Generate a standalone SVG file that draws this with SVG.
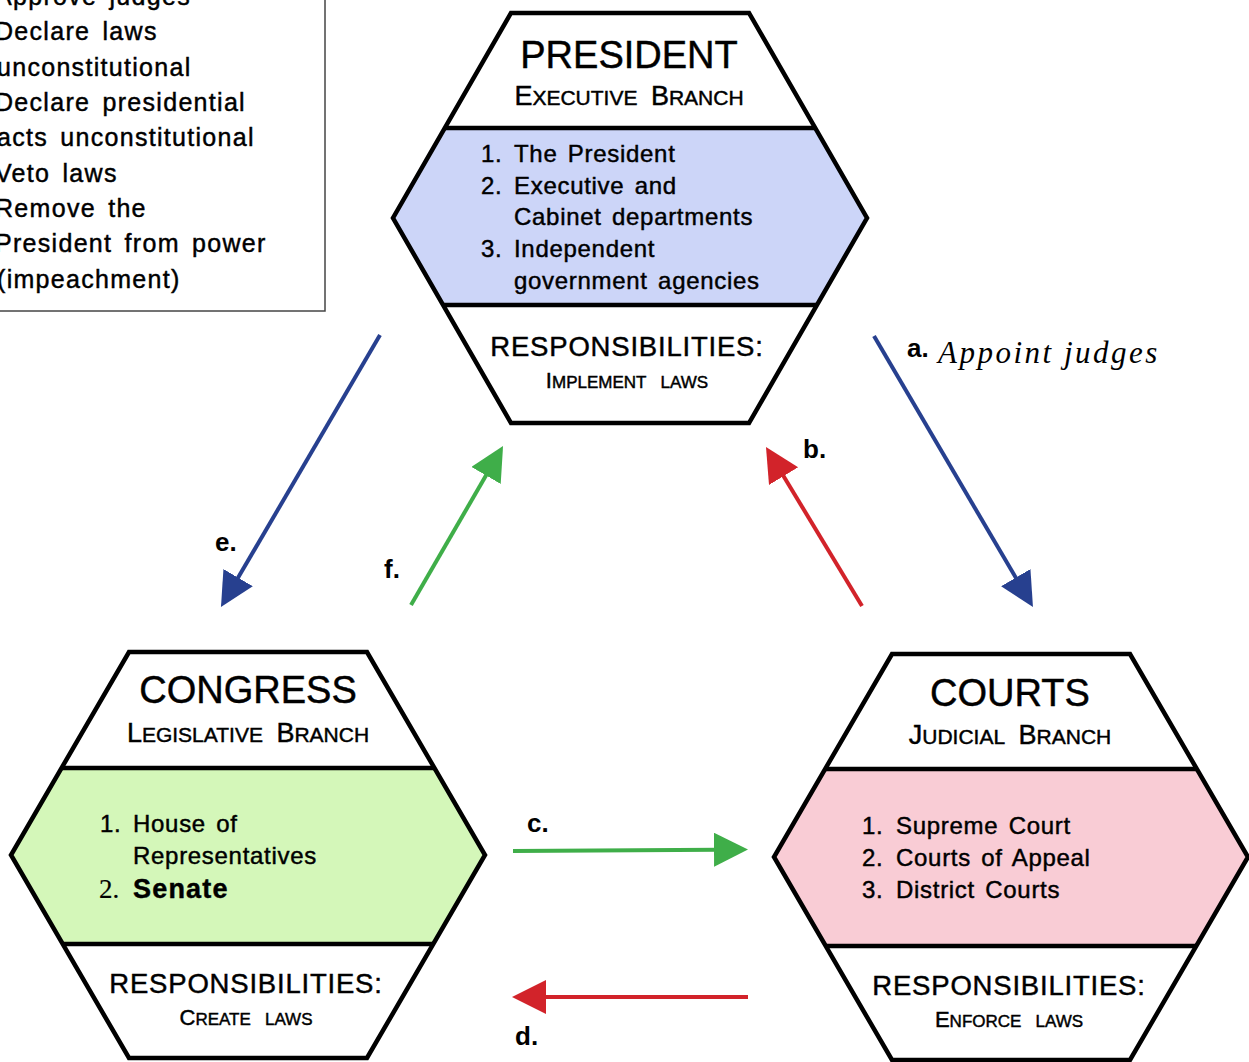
<svg xmlns="http://www.w3.org/2000/svg" width="1249" height="1062" viewBox="0 0 1249 1062">
  <style>
    text { font-family: "Liberation Sans", Arial, sans-serif; fill: #000; stroke: #000; stroke-width: 0.45px; }
    .hexfill { fill: #fff; stroke: none; }
    .hexline { fill: none; stroke: #000; stroke-width: 4.5; stroke-linejoin: miter; }
    .divider { stroke: #000; stroke-width: 4.5; }
    .blue-band { fill: #ccd5f8; }
    .green-band { fill: #d4f7b9; }
    .pink-band { fill: #f9ccd5; }
    .title { font-size: 38px; text-anchor: middle; }
    .branch { font-size: 27px; text-anchor: middle; word-spacing: 6px; }
    .branch .sm { font-size: 21px; }
    .item { font-size: 24px; letter-spacing: 0.7px; word-spacing: 3px; }
    .resp { font-size: 27.5px; letter-spacing: 0.8px; text-anchor: middle; }
    .duty { font-size: 22px; text-anchor: middle; word-spacing: 8px; }
    .duty .sm { font-size: 17px; }
    .box { fill: #fff; stroke: #444; stroke-width: 1.5; }
    .boxtext { font-size: 25px; letter-spacing: 1.3px; word-spacing: 4px; }
    .lbl { font-size: 26px; font-weight: bold; stroke-width: 0; }
    .script { font-family: "Liberation Serif", serif; font-style: italic; font-size: 31px; letter-spacing: 2.5px; stroke-width: 0; }
    .c-blue { stroke: #27408f; stroke-width: 4; fill: none; }
    .c-red { stroke: #d2232a; stroke-width: 4; fill: none; }
    .c-green { stroke: #3fae49; stroke-width: 4; fill: none; }
  </style>
  <defs>
    <marker id="head-blue" markerUnits="userSpaceOnUse" markerWidth="36" markerHeight="36" refX="4" refY="17" orient="auto">
      <path d="M0,0 L34,17 L0,34 z" fill="#27408f"/>
    </marker>
    <marker id="head-red" markerUnits="userSpaceOnUse" markerWidth="36" markerHeight="36" refX="4" refY="17" orient="auto">
      <path d="M0,0 L34,17 L0,34 z" fill="#d2232a"/>
    </marker>
    <marker id="head-green" markerUnits="userSpaceOnUse" markerWidth="36" markerHeight="36" refX="4" refY="17" orient="auto">
      <path d="M0,0 L34,17 L0,34 z" fill="#3fae49"/>
    </marker>
  </defs>

  <!-- Checks list box (partly off the top-left edge) -->
  <g id="checks-box">
    <rect class="box" x="-10" y="-10" width="335" height="321"/>
    <text class="boxtext" x="-5" y="5">Approve judges</text>
    <text class="boxtext" x="-5" y="40">Declare laws</text>
    <text class="boxtext" x="-3" y="75.5">unconstitutional</text>
    <text class="boxtext" x="-5" y="111">Declare presidential</text>
    <text class="boxtext" x="-3" y="146">acts unconstitutional</text>
    <text class="boxtext" x="-5" y="181.5">Veto laws</text>
    <text class="boxtext" x="-5" y="217">Remove the</text>
    <text class="boxtext" x="-5" y="252">President from power</text>
    <text class="boxtext" x="-3" y="287.5">(impeachment)</text>
  </g>

  <!-- Executive branch -->
  <g id="president">
    <polygon class="hexfill" points="511,13 749,13 867,218 749,423 511,423 393,218"/>
    <polygon class="blue-band" points="444.8,128 815.2,128 867,218 816.9,305 443.1,305 393,218"/>
    <line class="divider" x1="444.8" y1="128" x2="815.2" y2="128"/>
    <line class="divider" x1="443.1" y1="305" x2="816.9" y2="305"/>
    <polygon class="hexline" points="511,13 749,13 867,218 749,423 511,423 393,218"/>
    <text class="title" x="629" y="68">PRESIDENT</text>
    <text class="branch" x="629" y="105">E<tspan class="sm">XECUTIVE</tspan> B<tspan class="sm">RANCH</tspan></text>
    <text class="item" x="481" y="162">1.</text><text class="item" x="514" y="162">The President</text>
    <text class="item" x="481" y="193.5">2.</text><text class="item" x="514" y="193.5">Executive and</text>
    <text class="item" x="514" y="225">Cabinet departments</text>
    <text class="item" x="481" y="257">3.</text><text class="item" x="514" y="257">Independent</text>
    <text class="item" x="514" y="288.5">government agencies</text>
    <text class="resp" x="627" y="356">RESPONSIBILITIES:</text>
    <text class="duty" x="627" y="388">I<tspan class="sm">MPLEMENT</tspan> <tspan class="sm">LAWS</tspan></text>
  </g>

  <!-- Legislative branch -->
  <g id="congress">
    <polygon class="hexfill" points="129,652 367,652 485,855 367,1058 129,1058 11,855"/>
    <polygon class="green-band" points="61.6,768 434.4,768 485,855 433.3,944 62.7,944 11,855"/>
    <line class="divider" x1="61.6" y1="768" x2="434.4" y2="768"/>
    <line class="divider" x1="62.7" y1="944" x2="433.3" y2="944"/>
    <polygon class="hexline" points="129,652 367,652 485,855 367,1058 129,1058 11,855"/>
    <text class="title" x="248" y="703">CONGRESS</text>
    <text class="branch" x="248" y="742">L<tspan class="sm">EGISLATIVE</tspan> B<tspan class="sm">RANCH</tspan></text>
    <text class="item" x="100" y="832">1.</text><text class="item" x="133" y="832">House of</text>
    <text class="item" x="133" y="863.5">Representatives</text>
    <text x="99" y="898" style="font-family:'Liberation Serif',serif;font-size:27px;stroke-width:0.2px">2.</text>
    <text x="133" y="898" style="font-size:27px;font-weight:bold;letter-spacing:1.2px">Senate</text>
    <text class="resp" x="246" y="993">RESPONSIBILITIES:</text>
    <text class="duty" x="246" y="1025">C<tspan class="sm">REATE</tspan> <tspan class="sm">LAWS</tspan></text>
  </g>

  <!-- Judicial branch -->
  <g id="courts">
    <polygon class="hexfill" points="892,654 1130,654 1248,857 1130,1060 892,1060 774,857"/>
    <polygon class="pink-band" points="825.2,769 1196.8,769 1248,857 1196.3,946 825.7,946 774,857"/>
    <line class="divider" x1="825.2" y1="769" x2="1196.8" y2="769"/>
    <line class="divider" x1="825.7" y1="946" x2="1196.3" y2="946"/>
    <polygon class="hexline" points="892,654 1130,654 1248,857 1130,1060 892,1060 774,857"/>
    <text class="title" x="1010" y="706">COURTS</text>
    <text class="branch" x="1010" y="744">J<tspan class="sm">UDICIAL</tspan> B<tspan class="sm">RANCH</tspan></text>
    <text class="item" x="862" y="834">1.</text><text class="item" x="896" y="834">Supreme Court</text>
    <text class="item" x="862" y="866">2.</text><text class="item" x="896" y="866">Courts of Appeal</text>
    <text class="item" x="862" y="897.5">3.</text><text class="item" x="896" y="897.5">District Courts</text>
    <text class="resp" x="1009" y="995">RESPONSIBILITIES:</text>
    <text class="duty" x="1009" y="1027">E<tspan class="sm">NFORCE</tspan> <tspan class="sm">LAWS</tspan></text>
  </g>

  <!-- Checks and balances connectors -->
  <g id="connectors">
    <line class="c-blue" x1="874" y1="336" x2="1017.8" y2="581.1" marker-end="url(#head-blue)"/>
    <line class="c-red" x1="862" y1="606" x2="781.5" y2="472.7" marker-end="url(#head-red)"/>
    <line class="c-green" x1="513" y1="851" x2="718" y2="849.7" marker-end="url(#head-green)"/>
    <line class="c-red" x1="748" y1="997" x2="542" y2="997" marker-end="url(#head-red)"/>
    <line class="c-blue" x1="380" y1="335" x2="236.1" y2="581.1" marker-end="url(#head-blue)"/>
    <line class="c-green" x1="411" y1="605" x2="488" y2="472" marker-end="url(#head-green)"/>

    <text class="lbl" x="907" y="357">a.</text>
    <text class="script" x="938" y="363">Appoint judges</text>
    <text class="lbl" x="803" y="458">b.</text>
    <text class="lbl" x="527" y="832">c.</text>
    <text class="lbl" x="515" y="1045">d.</text>
    <text class="lbl" x="215" y="551">e.</text>
    <text class="lbl" x="384" y="578">f.</text>
  </g>
</svg>
